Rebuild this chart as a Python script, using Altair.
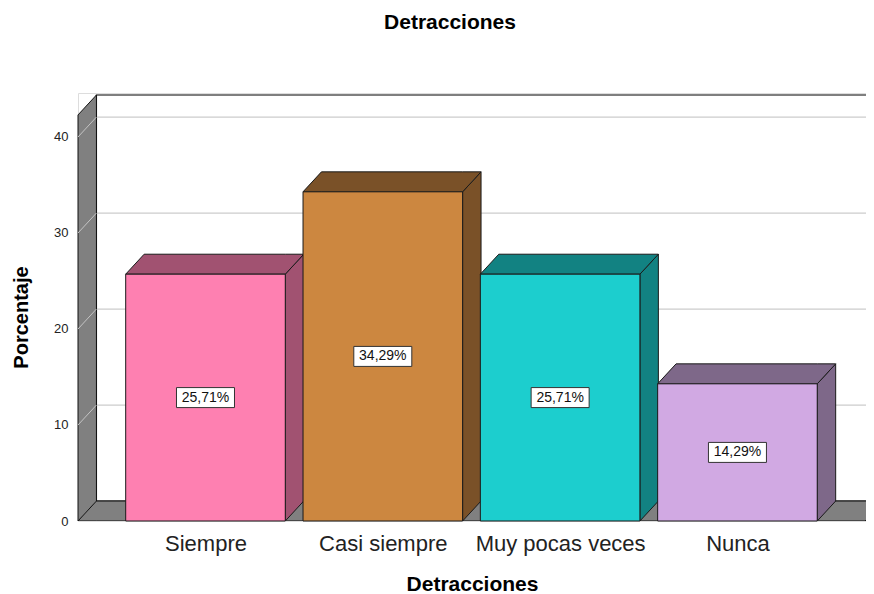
import json
import altair as alt
import pandas as pd

# ---- data ----
categories = ["Siempre", "Casi siempre", "Muy pocas veces", "Nunca"]
percentages = [25.71, 34.29, 25.71, 14.29]
front_colors = ["#fe80b1", "#cc8740", "#1ccece", "#d1a9e3"]
dark_colors = ["#a15271", "#7a5128", "#128282", "#7e6889"]
y_ticks = [0, 10, 20, 30, 40]

# ---- geometry in data units ----
X_MIN, X_MAX = -0.719, 3.725
Y_TOP = 44.583
WALL_TOP = 44.375
HALF = 0.45
DX, DY = 0.104, 2.08
FLOOR_R = 3.72
FONT = "Liberation Sans"

x_scale = alt.Scale(domain=[X_MIN, X_MAX], nice=False, zero=False)
y_scale = alt.Scale(domain=[0, Y_TOP], nice=False, zero=False)

label_expr = json.dumps(categories) + "[datum.value]"
x_axis = alt.Axis(values=[0, 1, 2, 3], labelExpr=label_expr, grid=False, ticks=False, tickSize=0,
                  domain=False, labelFontSize=22, labelColor="#222", labelPadding=12,
                  labelFont=FONT, labelFlush=False, labelOverlap=False,
                  title="Detracciones", titleFontSize=21, titleFontWeight="bold", titleFont=FONT,
                  titleColor="#000", titleY=69, titleBaseline="alphabetic")
y_axis = alt.Axis(values=y_ticks, grid=False, ticks=False, tickSize=0, domain=False,
                  labelFontSize=13, labelColor="#222", labelPadding=10, labelFont=FONT,
                  title="Porcentaje", titleFontSize=20, titleFontWeight="bold", titleFont=FONT,
                  titleColor="#000", titleX=-57, titleY=224, titleAngle=270,
                  titleAlign="center", titleBaseline="middle")


def X(f):
    return alt.X(f, type="quantitative", scale=x_scale, axis=x_axis)


def Y(f):
    return alt.Y(f, type="quantitative", scale=y_scale, axis=y_axis)


# back wall
back_df = pd.DataFrame({"x": [X_MIN + DX], "x2": [X_MAX + 0.3], "y": [DY], "y2": [WALL_TOP]})
back = alt.Chart(back_df).mark_rect(fill="white", stroke="#000", strokeWidth=1.2, clip=True).encode(
    x=X("x"), x2="x2", y=Y("y"), y2="y2")

# back grid lines
grid_df = pd.DataFrame({"v": [t + DY for t in y_ticks[1:]], "x": X_MIN + DX, "x2": X_MAX})
grid = alt.Chart(grid_df).mark_rule(color="#cccccc", strokeWidth=1.2, clip=True).encode(
    x=X("x"), x2="x2", y=Y("v"))

# left wall
lw_df = pd.DataFrame({"x": [X_MIN, X_MIN + DX], "y": [WALL_TOP - DY, WALL_TOP], "y2": [0, DY]})
left_wall = alt.Chart(lw_df).mark_area(fill="#808080", stroke="#111", strokeWidth=1,
                                       interpolate="linear").encode(x=X("x"), y=Y("y"), y2="y2")

# left wall diagonal grid
diag_df = pd.DataFrame({"x": X_MIN, "x2": X_MIN + DX, "y": y_ticks, "y2": [t + DY for t in y_ticks]})
diag = alt.Chart(diag_df).mark_rule(color="#c4c4c4", strokeWidth=1).encode(
    x=X("x"), x2="x2", y=Y("y"), y2="y2")

# floor
fl_df = pd.DataFrame({"x": [X_MIN, X_MIN + DX, FLOOR_R, FLOOR_R + DX],
                      "y": [0, DY, DY, DY], "y2": [0, 0, 0, DY]})
floor = alt.Chart(fl_df).mark_area(fill="#808080", stroke="#111", strokeWidth=1, clip=True,
                                   interpolate="linear").encode(x=X("x"), y=Y("y"), y2="y2")

# bars
side_rows, top_rows, front_rows = [], [], []
for i, (c, v) in enumerate(zip(categories, percentages)):
    x0, x1 = i - HALF, i + HALF
    side_rows += [{"cat": c, "x": x1, "y": v, "y2": 0, "fill": dark_colors[i]},
                  {"cat": c, "x": x1 + DX, "y": v + DY, "y2": DY, "fill": dark_colors[i]}]
    top_rows += [{"cat": c, "x": x0, "y": v, "y2": v, "fill": dark_colors[i]},
                 {"cat": c, "x": x0 + DX, "y": v + DY, "y2": v, "fill": dark_colors[i]},
                 {"cat": c, "x": x1, "y": v + DY, "y2": v, "fill": dark_colors[i]},
                 {"cat": c, "x": x1 + DX, "y": v + DY, "y2": v + DY, "fill": dark_colors[i]}]
    front_rows.append({"cat": c, "x": x0, "x2": x1, "y": 0, "y2": v, "mid": v / 2, "pos": i,
                       "fill": front_colors[i],
                       "label": f"{v:.2f}".replace(".", ",") + "%"})

side_df = pd.DataFrame(side_rows)
top_df = pd.DataFrame(top_rows)
front_df = pd.DataFrame(front_rows)

sides = alt.Chart(side_df).mark_area(stroke="#1a1a1a", strokeWidth=1, interpolate="linear").encode(
    x=X("x"), y=Y("y"), y2="y2", detail="cat:N", fill=alt.Fill("fill:N", scale=None))
tops = alt.Chart(top_df).mark_area(stroke="#1a1a1a", strokeWidth=1, interpolate="linear").encode(
    x=X("x"), y=Y("y"), y2="y2", detail="cat:N", fill=alt.Fill("fill:N", scale=None))
fronts = alt.Chart(front_df).mark_rect(stroke="#1a1a1a", strokeWidth=1).encode(
    x=X("x"), x2="x2", y=Y("y"), y2="y2", fill=alt.Fill("fill:N", scale=None))

boxes = alt.Chart(front_df).mark_rect(fill="white", stroke="#333", strokeWidth=1,
                                      xOffset=-29, x2Offset=29, yOffset=-10, y2Offset=10).encode(
    x=X("pos"), x2="pos", y=Y("mid"), y2="mid")
texts = alt.Chart(front_df).mark_text(font=FONT, fontSize=14, color="#111", baseline="middle",
                                      align="center").encode(
    x=X("pos"), y=Y("mid"), text="label:N")

chart = alt.layer(back, grid, left_wall, diag, floor, sides, tops, fronts, boxes, texts).properties(
    width=788, height=428,
    padding={"left": 70, "top": 85, "right": 0, "bottom": 76},
    autosize="none",
    title=alt.TitleParams("Detracciones", fontSize=21, fontWeight="bold", font=FONT, color="#000",
                          anchor="middle", dx=-22, offset=43, baseline="alphabetic"),
).configure_view(stroke=None).configure(background="white")

chart.save("out.html", embed_options={"renderer": "svg", "actions": False})
